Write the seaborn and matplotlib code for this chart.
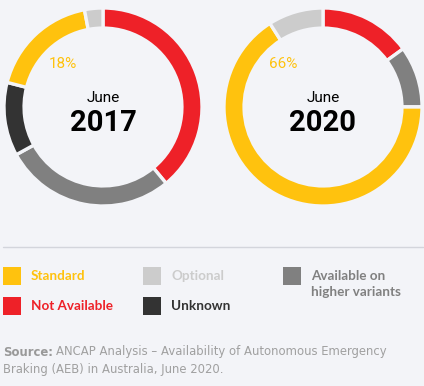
import matplotlib
matplotlib.use("Agg")
import matplotlib.pyplot as plt
from matplotlib.patches import Rectangle
import seaborn as sns

# data (share of models, %)
categories = ["Not Available", "Available on higher variants", "Unknown", "Standard", "Optional"]
share_2017 = [39, 28, 12, 18, 3]
share_2020 = [15, 10, 0, 66, 9]
years = ["2017", "2020"]
standard_labels = ["18%", "66%"]

COLORS = {
    "Standard": "#FFC20E",
    "Optional": "#CCCCCC",
    "Available on higher variants": "#808080",
    "Not Available": "#EE2128",
    "Unknown": "#333333",
}
BG = "#F3F4F8"
LEGEND_FONT = ["Lato", "DejaVu Sans"]
SOURCE_FONT = ["DejaVu Sans"]

sns.set_style("white")
plt.rcParams["font.family"] = ["Roboto", "DejaVu Sans"]

fig = plt.figure(figsize=(4.24, 3.86), dpi=100, facecolor=BG)
W, H = 424, 386


def add_donut(cx, cy, r, values, year, label):
    ax = fig.add_axes([(cx - r) / W, 1 - (cy + r) / H, 2 * r / W, 2 * r / H])
    ax.set_facecolor(BG)
    cols = [COLORS[c] for c in categories]
    ax.pie(values, colors=cols, startangle=90, counterclock=False, radius=1.01,
           wedgeprops={"width": 0.205, "edgecolor": BG, "linewidth": 2.4})
    ax.set_xlim(-1.02, 1.02)
    ax.set_ylim(-1.02, 1.02)
    ax.set_aspect("equal")
    ax.axis("off")
    ax.text(-0.41, 0.44, label, color=COLORS["Standard"], fontsize=11,
            ha="center", va="center")
    ax.text(0, 0.09, "June", fontsize=11, ha="center", va="center", color="black")
    ax.text(0, -0.16, year, fontsize=21, fontweight="bold", ha="center",
            va="center", color="black")


add_donut(103, 107, 100, share_2017, years[0], standard_labels[0])
add_donut(323, 107, 100, share_2020, years[1], standard_labels[1])

# overlay in pixel coordinates for the legend and source
ov = fig.add_axes([0, 0, 1, 1])
ov.set_xlim(0, W)
ov.set_ylim(H, 0)
ov.axis("off")
ov.patch.set_alpha(0)

ov.plot([3, 423], [247, 247], color="#D3D5DC", linewidth=1)

legend_items = [
    ("Standard", 3, 267),
    ("Not Available", 3, 297),
    ("Optional", 143, 267),
    ("Unknown", 143, 297),
    ("Available on higher variants", 283, 267),
]
for name, x, y in legend_items:
    c = COLORS[name]
    ov.add_patch(Rectangle((x, y), 18, 18, color=c, lw=0))
    lines = ["Available on", "higher variants"] if name.startswith("Available") else [name]
    for i, line in enumerate(lines):
        ov.text(x + 28, y + 9 + 16 * i, line, color=c, fontsize=9.7,
                fontweight="bold", family=LEGEND_FONT, va="center", ha="left")

src_color = "#A0A0A0"
t = ov.text(3, 352, "Source:", color="#999999", fontsize=8.4, fontweight="bold",
            family=SOURCE_FONT, va="center", ha="left")
fig.canvas.draw()
bb = t.get_window_extent()
x_after = bb.x1 + 3  # pixels (dpi 100, figure == pixels)
ov.text(x_after, 352, "ANCAP Analysis \u2013 Availability of Autonomous Emergency",
        color=src_color, fontsize=8.4, family=SOURCE_FONT, va="center", ha="left")
ov.text(3, 369, "Braking (AEB) in Australia, June 2020.", color=src_color,
        fontsize=8.4, family=SOURCE_FONT, va="center", ha="left")

fig.savefig("out.png", dpi=100, facecolor=BG)
